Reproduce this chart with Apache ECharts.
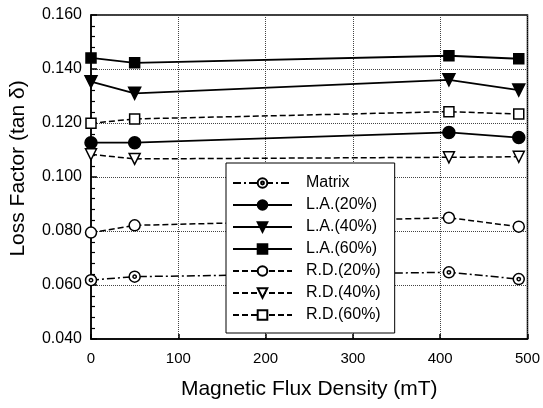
<!DOCTYPE html>
<html>
<head>
<meta charset="utf-8">
<script src="https://cdn.jsdelivr.net/npm/echarts@6/dist/echarts.min.js"></script>
<style>
html,body{margin:0;padding:0;background:#fff;}
#chart{width:543px;height:408px;}
</style>
</head>
<body>
<div id="chart"></div>
<script>
const fluxDensity = [0, 50, 410, 490];
const matrix = [0.0618, 0.0631, 0.0647, 0.0622];
const la20 = [0.1127, 0.1127, 0.1165, 0.1146];
const la40 = [0.1353, 0.1310, 0.1360, 0.1322];
const la60 = [0.1441, 0.1423, 0.1449, 0.1438];
const rd20 = [0.0794, 0.0821, 0.0849, 0.0816];
const rd40 = [0.1084, 0.1067, 0.1073, 0.1075];
const rd60 = [0.1199, 0.1215, 0.1242, 0.1233];
const seriesNames = ['Matrix', 'L.A.(20%)', 'L.A.(40%)', 'L.A.(60%)', 'R.D.(20%)', 'R.D.(40%)', 'R.D.(60%)'];

const FONT = "'Liberation Sans', Arial, sans-serif";
function pts(arr){ return fluxDensity.map((x,i)=>[x, arr[i]]); }

const ringDot = 'path://M0,10A10,10 0 1,0 20,10A10,10 0 1,0 0,10ZM7,10A3,3 0 1,0 13,10A3,3 0 1,0 7,10Z';

function mk(name, arr, opts){
  return {
    name: name,
    type: 'line',
    data: pts(arr),
    lineStyle: {color:'#000', width: opts.dash ? 1.5 : 1.8, type: opts.dash || 'solid'},
    itemStyle: {color: opts.fill, borderColor:'#000', borderWidth: 1.5},
    symbol: opts.symbol,
    symbolSize: opts.size,
    symbolRotate: opts.rotate || 0,
    showAllSymbol: true,
    animation: false,
    z: 3
  };
}

const series = [
  mk(seriesNames[0], matrix, {symbol: ringDot, size: 11, fill:'#fff', dash:[8,3,2,3]}),
  mk(seriesNames[1], la20, {symbol:'circle', size: 12, fill:'#000'}),
  mk(seriesNames[2], la40, {symbol:'triangle', size: 12, fill:'#000', rotate:180}),
  mk(seriesNames[3], la60, {symbol:'rect', size: 10, fill:'#000'}),
  mk(seriesNames[4], rd20, {symbol:'circle', size: 11, fill:'#fff', dash:[6,3]}),
  mk(seriesNames[5], rd40, {symbol:'triangle', size: 11, fill:'#fff', dash:[6,3], rotate:180}),
  mk(seriesNames[6], rd60, {symbol:'rect', size: 10, fill:'#fff', dash:[6,3]})
];

const chart = echarts.init(document.getElementById('chart'), null, {renderer:'canvas'});
chart.setOption({
  animation: false,
  backgroundColor: '#fff',
  textStyle: {fontFamily: FONT, color:'#000'},
  grid: {left: 91, right: 12, top: 15, bottom: 69, show: true, borderColor:'#000', borderWidth: 1.5, backgroundColor:'transparent'},
  legend: {
    data: seriesNames,
    orient: 'vertical',
    left: 226, top: 163,
    backgroundColor: '#fff',
    borderColor: '#000',
    borderWidth: 1,
    borderRadius: 0,
    padding: [12, 14, 10, 6],
    itemWidth: 59,
    itemHeight: 12,
    itemGap: 6,
    textStyle: {fontFamily: FONT, fontSize: 16, color:'#000', lineHeight: 16, padding:[0,0,0,9]},
    z: 10
  },
  xAxis: {
    type: 'value', min: 0, max: 500, interval: 100,
    name: 'Magnetic Flux Density (mT)',
    nameLocation: 'middle', nameGap: 40,
    nameTextStyle: {fontFamily: FONT, fontSize: 21, color:'#000'},
    axisLine: {show: true, lineStyle:{color:'#000', width:1.5}},
    axisTick: {show: true, inside: true, length: 5, lineStyle:{color:'#000', width:1.5}},
    axisLabel: {fontFamily: FONT, fontSize: 15, color:'#000', margin: 12},
    splitLine: {show: true, lineStyle:{color:'#444', type:'dotted', width:1}}
  },
  yAxis: {
    type: 'value', min: 0.04, max: 0.16, interval: 0.02,
    name: 'Loss Factor (tan δ)',
    nameLocation: 'middle', nameGap: 62,
    nameTextStyle: {fontFamily: FONT, fontSize: 21, color:'#000', padding:[0,0,0,17]},
    axisLine: {show: true, lineStyle:{color:'#000', width:1.5}},
    axisTick: {show: true, inside: true, length: 6, lineStyle:{color:'#000', width:1.5}},
    minorTick: {show: true, splitNumber: 5, length: 4, lineStyle:{color:'#000', width:1.2}},
    axisLabel: {fontFamily: FONT, fontSize: 16, color:'#000', margin: 9, formatter: v => v.toFixed(3)},
    splitLine: {show: true, lineStyle:{color:'#444', type:'dotted', width:1}}
  },
  series: series
});
</script>
</body>
</html>
